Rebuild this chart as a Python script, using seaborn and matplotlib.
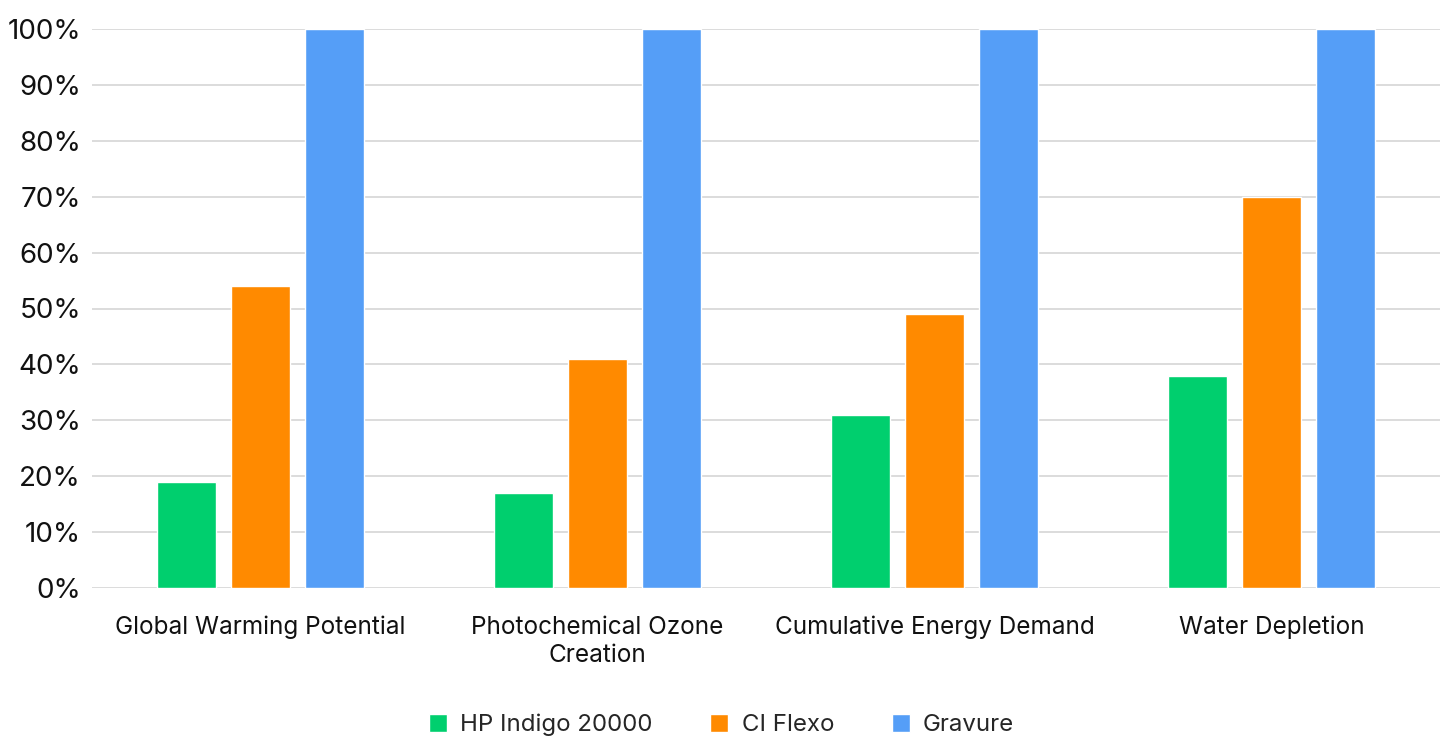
import pandas as pd
import matplotlib.pyplot as plt
import seaborn as sns

# ── Data ───────────────────────────────────────────────────────────────────────
categories = ['Global Warming Potential', 'Photochemical Ozone\nCreation',
              'Cumulative Energy Demand', 'Water Depletion']
series = ['HP Indigo 20000', 'CI Flexo', 'Gravure']
hp_indigo = [19, 17, 31, 38]
ci_flexo = [54, 41, 49, 70]
gravure = [100, 100, 100, 100]
yticks = list(range(0, 101, 10))

COLORS = ['#00CF6E', '#FF8A00', '#559EF7']

df = pd.DataFrame({
    'category': categories * 3,
    'series': [series[0]] * 4 + [series[1]] * 4 + [series[2]] * 4,
    'value': hp_indigo + ci_flexo + gravure,
})

# ── Plot ───────────────────────────────────────────────────────────────────────
sns.set_theme(style='white')
plt.rcParams['font.family'] = ['Inter', 'DejaVu Sans']

fig = plt.figure(figsize=(14.49, 7.44), dpi=100)
ax = fig.add_axes([92 / 1449, 1 - 588 / 744, (1440 - 92) / 1449, (588 - 29) / 744])

sns.barplot(data=df, x='category', y='value', hue='series', order=categories,
            hue_order=series, palette=COLORS, width=0.66, gap=0.2,
            saturation=1, ax=ax, zorder=3, legend=True)

ax.set_ylim(0, 100)
ax.set_xlim(-0.5, 3.5)
ax.set_yticks(yticks)
ax.set_yticklabels([f'{t}%' for t in yticks], fontsize=20, color='#111111')
ax.tick_params(axis='x', colors='#111111', pad=20, length=0)
for lbl in ax.get_xticklabels():
    lbl.set_fontsize(17.5)
    lbl.set_linespacing(1.3)
ax.tick_params(axis='y', length=0, pad=8)
ax.set_xlabel('')
ax.set_ylabel('')
ax.grid(axis='y', color='#d9d9d9', linewidth=1.3, zorder=0)
for s in ax.spines.values():
    s.set_visible(False)

ax.legend(loc='upper center', bbox_to_anchor=(0.467, -0.195), ncol=3, frameon=False,
          fontsize=17.3, handlelength=0.75, handleheight=0.75, handletextpad=0.55,
          columnspacing=2.4, borderpad=0.2)

plt.savefig('out.png', dpi=100)
plt.close()
